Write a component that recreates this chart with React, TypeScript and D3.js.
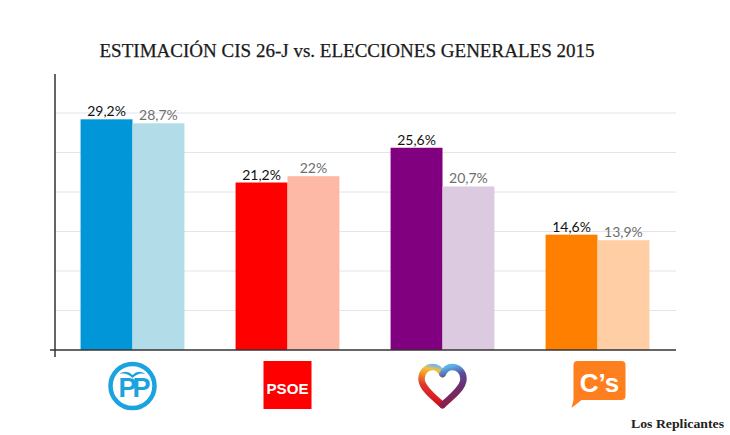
import React from "react";
import * as d3 from "d3";

const parties = ["PP", "PSOE", "Unidos Podemos", "Ciudadanos"];
const cisValues = [29.2, 21.2, 25.6, 14.6];
const electionValues = [28.7, 22, 20.7, 13.9];
const cisLabels = ["29,2%", "21,2%", "25,6%", "14,6%"];
const electionLabels = ["28,7%", "22%", "20,7%", "13,9%"];
const darkColors = ["#0096d8", "#ff0000", "#800080", "#ff8000"];
const lightColors = ["#b3dce9", "#feb8a6", "#dccbe0", "#ffcea5"];
const yTicks = [5, 10, 15, 20, 25, 30];
const title = "ESTIMACIÓN CIS 26-J vs. ELECCIONES GENERALES 2015";

const W = 730;
const H = 435;
const left = 55;
const right = 675;
const baseY = 350;
const topY = 74;
const serif = "'Liberation Serif', serif";

function Logo({ party, cx, cy }: { party: string; cx: number; cy: number }) {
  if (party === "PP") {
    return (
      <g transform={`translate(${cx},${cy})`}>
        <circle r={22} fill="none" stroke="#1ba3e0" strokeWidth={4.5} />
        <path d="M-13,-12 Q-6,-17 0,-11 Q6,-17 13,-12 Q6,-14 0,-8 Q-6,-14 -13,-12 Z" fill="#1ba3e0" />
        <text x={0} y={11} textAnchor="middle" fontFamily="'Liberation Sans', Arial, sans-serif" fontWeight="bold" fontSize={27} fill="#1ba3e0" letterSpacing={-4}>PP</text>
      </g>
    );
  }
  if (party === "PSOE") {
    return (
      <g transform={`translate(${cx},${cy})`}>
        <rect x={-24} y={-25} width={48} height={48} fill="#ff0000" />
        <text x={0} y={8} textAnchor="middle" fontFamily="'Liberation Sans', Arial, sans-serif" fontWeight="bold" fontSize={15} fill="#fff" textLength={42} lengthAdjust="spacingAndGlyphs">PSOE</text>
      </g>
    );
  }
  if (party === "Unidos Podemos") {
    const leftPath = "M0,19 C-8,12 -21,2 -21,-7 C-21,-15 -15,-19 -10,-19 C-5,-19 -2,-16 0,-12";
    const rightPath = "M0,-12 C2,-16 5,-19 10,-19 C15,-19 21,-15 21,-7 C21,2 8,12 0,19";
    return (
      <g transform={`translate(${cx},${cy})`}>
        <defs>
          <linearGradient id="heartL" gradientUnits="userSpaceOnUse" x1={-10} y1={18} x2={-2} y2={-19}>
            <stop offset="0" stopColor="#d4101f" />
            <stop offset="0.45" stopColor="#e0352a" />
            <stop offset="0.75" stopColor="#f39a26" />
            <stop offset="0.9" stopColor="#f2c33a" />
            <stop offset="1" stopColor="#7cb7e4" />
          </linearGradient>
          <linearGradient id="heartR" gradientUnits="userSpaceOnUse" x1={1} y1={-18} x2={10} y2={18}>
            <stop offset="0" stopColor="#58b4ea" />
            <stop offset="0.25" stopColor="#5a4f9b" />
            <stop offset="0.6" stopColor="#6c2d6e" />
            <stop offset="1" stopColor="#8a1f4a" />
          </linearGradient>
        </defs>
        <path d={leftPath} fill="none" stroke="url(#heartL)" strokeWidth={6.5} strokeLinecap="round" />
        <path d={rightPath} fill="none" stroke="url(#heartR)" strokeWidth={6.5} strokeLinecap="round" />
      </g>
    );
  }
  return (
    <g transform={`translate(${cx},${cy})`}>
      <path
        d="M-24,-21 Q-24,-25 -20,-25 L24,-25 Q28,-25 28,-21 L28,10 Q28,14 24,14 L-16,14 L-26,22 L-24,14 Z"
        fill="#ff7f1e"
      />
      <text x={2} y={6} textAnchor="middle" fontFamily="'Liberation Sans', Arial, sans-serif" fontWeight="bold" fontSize={26} fill="#fff">C’s</text>
    </g>
  );
}

export default function App() {
  const x0 = d3.scaleBand<string>().domain(parties).range([left, right]).paddingInner(0.33).paddingOuter(0.165);
  const x1 = d3.scaleBand<string>().domain(["cis", "elec"]).range([0, x0.bandwidth()]);
  const y = d3.scaleLinear().domain([0, 35]).range([baseY, baseY - 35 * 7.9]);

  return (
    <svg width={W} height={H} style={{ position: "absolute", left: 0, top: 0, background: "#fff" }}>
      <rect width={W} height={H} fill="#fff" />
      <text x={347} y={57} textAnchor="middle" fontFamily={serif} fontSize={19} fill="#1a1a1a" stroke="#1a1a1a" strokeWidth={0.25} textLength={495} lengthAdjust="spacingAndGlyphs">{title}</text>
      {yTicks.map((t) => (
        <line key={t} x1={left} x2={right + 1} y1={y(t)} y2={y(t)} stroke="#e4e4ec" strokeWidth={1} />
      ))}
      {parties.map((p, i) => {
        const gx = x0(p)!;
        const bw = x1.bandwidth();
        const xc = gx + x1("cis")!;
        const xe = gx + x1("elec")!;
        return (
          <g key={p}>
            <rect x={xc} y={y(cisValues[i])} width={bw} height={baseY - y(cisValues[i])} fill={darkColors[i]} />
            <rect x={xe} y={y(electionValues[i])} width={bw} height={baseY - y(electionValues[i])} fill={lightColors[i]} />
            <text x={xc + bw / 2} y={y(cisValues[i]) - 3} textAnchor="middle" fontFamily="Lato, sans-serif" fontSize={14} fill="#111">{cisLabels[i]}</text>
            <text x={xe + bw / 2} y={y(electionValues[i]) - 3} textAnchor="middle" fontFamily="Lato, sans-serif" fontSize={14} fill="#6e6e6e">{electionLabels[i]}</text>
            <Logo party={p} cx={gx + x0.bandwidth() / 2} cy={386} />
          </g>
        );
      })}
      <line x1={50} x2={right + 1} y1={baseY} y2={baseY} stroke="#333" strokeWidth={1.5} />
      <line x1={left} x2={left} y1={topY} y2={357} stroke="#333" strokeWidth={1.5} />
      <text x={724} y={428} textAnchor="end" fontFamily={serif} fontWeight="bold" fontSize={13} fill="#222" textLength={93} lengthAdjust="spacingAndGlyphs">Los Replicantes</text>
    </svg>
  );
}
